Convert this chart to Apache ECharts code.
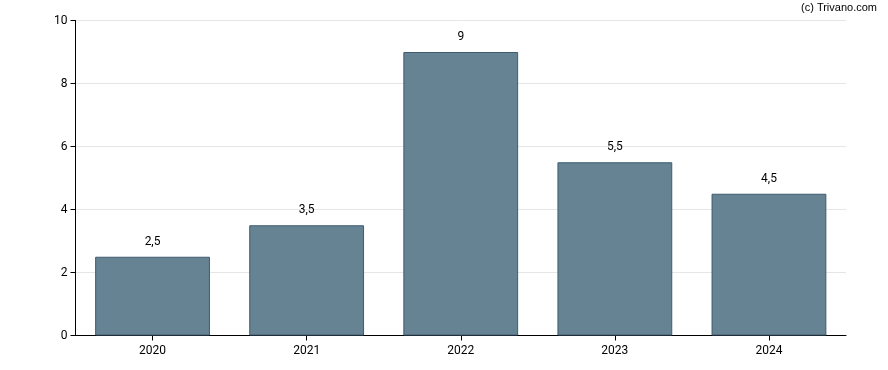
<!DOCTYPE html>
<html>
<head>
<meta charset="utf-8">
<script src="https://cdn.jsdelivr.net/npm/echarts@6/dist/echarts.min.js"></script>
<style>html,body{margin:0;padding:0;background:#fff}#c{width:888px;height:370px}</style>
</head>
<body>
<div id="c"></div>
<script>
var categories = ['2020', '2021', '2022', '2023', '2024'];
var values = [2.5, 3.5, 9, 5.5, 4.5];
var yTicks = [0, 2, 4, 6, 8, 10];

var chart = echarts.init(document.getElementById('c'), null, {renderer: 'canvas'});
chart.setOption({
  animation: false,
  textStyle: {fontFamily: 'Roboto, Arial, sans-serif'},
  graphic: [{
    type: 'text', right: 11, top: 2,
    style: {text: '(c) Trivano.com', font: '11px Arial, "Liberation Sans", sans-serif', fill: '#000'}
  }],
  grid: {left: 75.5, right: 42, top: 20.5, bottom: 34.5, containLabel: false},
  xAxis: {
    type: 'category', data: categories,
    axisLine: {lineStyle: {color: '#000', width: 1}},
    axisTick: {show: true, alignWithLabel: true, length: 5, lineStyle: {color: '#000'}},
    axisLabel: {color: '#000', fontSize: 12, margin: 9},
    splitLine: {show: false}
  },
  yAxis: {
    type: 'value', min: yTicks[0], max: yTicks[yTicks.length - 1], interval: 2,
    axisLine: {show: true, lineStyle: {color: '#000', width: 1}},
    axisTick: {show: true, length: 5, lineStyle: {color: '#000'}},
    axisLabel: {color: '#000', fontSize: 12, margin: 8},
    splitLine: {show: true, lineStyle: {color: '#e6e6e6', width: 1}}
  },
  series: [{
    type: 'bar', data: values, barWidth: '74.5%',
    itemStyle: {color: '#668394', borderColor: '#3e5c70', borderWidth: 1},
    label: {
      show: true, position: 'top', distance: 9, color: '#000', fontSize: 12,
      formatter: function (p) { return String(p.value).replace('.', ','); }
    }
  }]
});
</script>
</body>
</html>
